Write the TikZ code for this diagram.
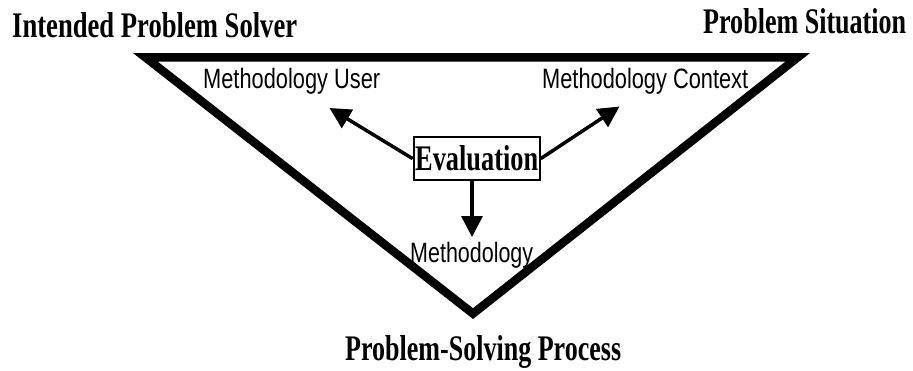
\documentclass[tikz,border=0pt]{standalone}
\usepackage{fontspec}
\setmainfont{Liberation Serif}
\newfontfamily\labelsans{Liberation Sans}
\usetikzlibrary{arrows.meta}
\begin{document}
\begin{tikzpicture}[x=1pt,y=-1pt,
  title/.style={anchor=base west,inner sep=0pt,font=\fontsize{36}{40}\selectfont\bfseries},
  part/.style={anchor=base west,inner sep=0pt,font=\fontsize{28}{32}\selectfont\labelsans},
  evalbox/.style={draw,line width=2pt,inner sep=0pt,minimum width=126pt,minimum height=43.3pt,
                  font=\fontsize{36}{40}\selectfont\bfseries},
  flow/.style={line width=3.5pt,-{Triangle[length=21pt,width=21pt]}},
  frame/.style={line width=8.5pt,miter limit=10}]
\useasboundingbox (0,0) rectangle (913,370);

% the inverted triangle of the three corners
\draw[frame] (145.3,57.25) -- (797.8,57.25) -- (473,313.6) -- cycle;

% corner titles
\node[title] (solver) at (12,37) {\resizebox{285pt}{\height}{Intended Problem Solver}};
\node[title] (situation) at (703,33) {\resizebox{203pt}{\height}{Problem Situation}};
\node[title] (process) at (345,360) {\resizebox{276pt}{\height}{Problem-Solving Process}};

% labels inside the triangle
\node[part] (user) at (203,88) {\resizebox{177pt}{\height}{Methodology User}};
\node[part] (context) at (542,88) {\resizebox{206pt}{\height}{Methodology Context}};
\node[part] (method) at (410,262.7) {\resizebox{123pt}{\height}{Methodology}};

% central box and its arrows
\node[evalbox] (eval) at (476.7,158.65) {\resizebox{123pt}{\height}{Evaluation}};
\coordinate (userTip) at (329.5,108);
\coordinate (ctxTip) at (619.5,106.5);
\coordinate (methTip) at (472,237);
\draw[flow] (eval.west) -- (userTip);
\draw[flow] (eval.east) -- (ctxTip);
\draw[flow] (eval.south -| methTip) -- (methTip);
\end{tikzpicture}
\end{document}
